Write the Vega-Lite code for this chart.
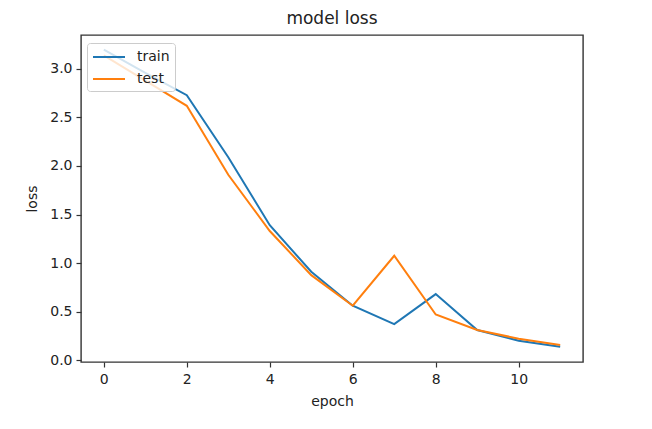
{
  "$schema": "https://vega.github.io/schema/vega-lite/v6.json",
  "autosize": "none",
  "width": 502,
  "height": 327,
  "padding": {"left": 81, "top": 35, "right": 69, "bottom": 67},
  "background": "white",
  "title": {"text": "model loss", "fontSize": 17, "font": "DejaVu Sans", "fontWeight": "normal", "color": "#222", "offset": 7, "anchor": "middle"},
  "config": {
    "view": {"stroke": "#333", "strokeWidth": 1.4},
    "axis": {"grid": false, "domain": false, "tickColor": "#333", "tickSize": 5, "tickWidth": 1.2, "labelFont": "DejaVu Sans", "labelFontSize": 14, "labelColor": "#222", "titleFont": "DejaVu Sans", "titleFontSize": 14, "titleFontWeight": "normal", "titleColor": "#222"}
  },
  "data": {"values": [
    {"epoch": 0, "loss": 3.2, "series": "train"},
    {"epoch": 1, "loss": 2.96, "series": "train"},
    {"epoch": 2, "loss": 2.73, "series": "train"},
    {"epoch": 3, "loss": 2.09, "series": "train"},
    {"epoch": 4, "loss": 1.39, "series": "train"},
    {"epoch": 5, "loss": 0.91, "series": "train"},
    {"epoch": 6, "loss": 0.56, "series": "train"},
    {"epoch": 7, "loss": 0.37, "series": "train"},
    {"epoch": 8, "loss": 0.68, "series": "train"},
    {"epoch": 9, "loss": 0.31, "series": "train"},
    {"epoch": 10, "loss": 0.2, "series": "train"},
    {"epoch": 11, "loss": 0.137, "series": "train"},
    {"epoch": 0, "loss": 3.14, "series": "test"},
    {"epoch": 1, "loss": 2.88, "series": "test"},
    {"epoch": 2, "loss": 2.62, "series": "test"},
    {"epoch": 3, "loss": 1.91, "series": "test"},
    {"epoch": 4, "loss": 1.33, "series": "test"},
    {"epoch": 5, "loss": 0.875, "series": "test"},
    {"epoch": 6, "loss": 0.56, "series": "test"},
    {"epoch": 7, "loss": 1.075, "series": "test"},
    {"epoch": 8, "loss": 0.47, "series": "test"},
    {"epoch": 9, "loss": 0.31, "series": "test"},
    {"epoch": 10, "loss": 0.22, "series": "test"},
    {"epoch": 11, "loss": 0.155, "series": "test"}
  ]},
  "mark": {"type": "line", "strokeWidth": 2, "clip": true},
  "encoding": {
    "x": {"field": "epoch", "type": "quantitative", "scale": {"domain": [-0.55, 11.55], "nice": false, "zero": false},
      "axis": {"values": [0, 2, 4, 6, 8, 10], "format": "d", "title": "epoch", "labelPadding": 5, "titlePadding": 8}},
    "y": {"field": "loss", "type": "quantitative", "scale": {"domain": [-0.02, 3.35], "nice": false, "zero": false},
      "axis": {"values": [0, 0.5, 1, 1.5, 2, 2.5, 3], "format": ".1f", "title": "loss", "labelPadding": 4, "titlePadding": 10}},
    "color": {"field": "series", "type": "nominal",
      "scale": {"domain": ["train", "test"], "range": ["#1f77b4", "#ff7f0e"]},
      "legend": {"title": null, "orient": "none", "legendX": 6, "legendY": 8, "symbolType": "M-1,0H3", "symbolSize": 256, "symbolStrokeWidth": 2, "labelFont": "DejaVu Sans", "labelFontSize": 14, "labelColor": "#222", "fillColor": "rgba(255,255,255,0.8)", "strokeColor": "#ccc", "cornerRadius": 3, "padding": 5, "rowPadding": 6, "labelOffset": 27}},
    "order": {"field": "epoch"}
  }
}
